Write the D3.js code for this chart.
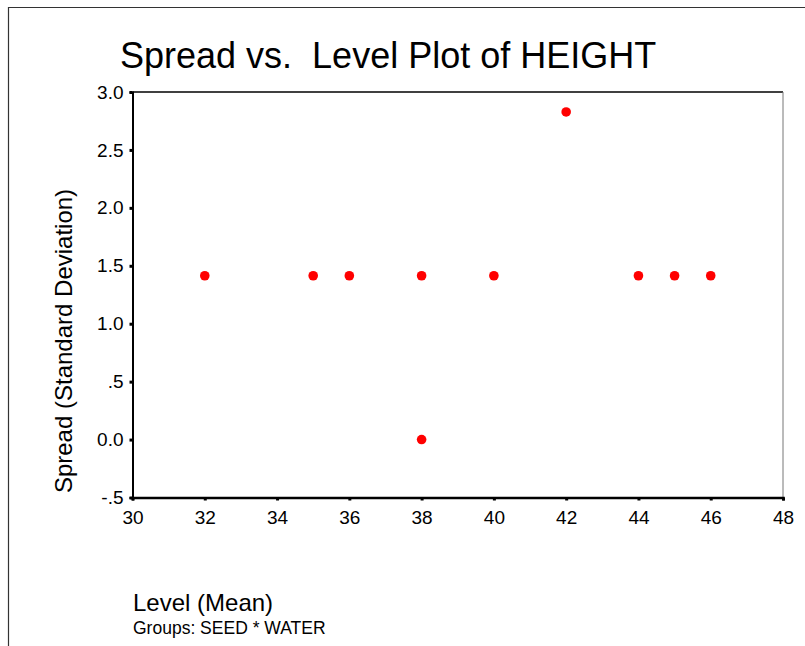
<!DOCTYPE html>
<html>
<head>
<meta charset="utf-8">
<script src="https://cdn.jsdelivr.net/npm/d3@7"></script>
<style>
  html, body { margin: 0; padding: 0; background: #fff; }
  svg { display: block; font-family: "Liberation Sans", Arial, sans-serif; }
</style>
</head>
<body>
<svg id="chart" width="805" height="646"></svg>
<script>
// ---- data ----
const levelMeans = [32, 35, 36, 38, 38, 40, 42, 44, 45, 46];
const spreadSD   = [1.414, 1.414, 1.414, 1.414, 0.0, 1.414, 2.828, 1.414, 1.414, 1.414];
const xTicks = [30, 32, 34, 36, 38, 40, 42, 44, 46, 48];
const yTicks = [-0.5, 0.0, 0.5, 1.0, 1.5, 2.0, 2.5, 3.0];
const yTickLabels = ["-.5", "0.0", ".5", "1.0", "1.5", "2.0", "2.5", "3.0"];
const titleText = "Spread vs.  Level Plot of HEIGHT";
const xTitle = "Level (Mean)";
const yTitle = "Spread (Standard Deviation)";
const footnote = "Groups: SEED * WATER";

const svg = d3.select("#chart");
const L = 132.5, R = 783, T = 92, B = 497.5;
const FONT = "Liberation Sans, Arial, sans-serif";

// outer frame (left and top only visible)
svg.append("path").attr("d", "M8.5,646 V7.5 H805").attr("fill", "none").attr("stroke", "#333").attr("stroke-width", 1.2);

const x = d3.scaleLinear().domain([30, 48]).range([L, R]);
const y = d3.scaleLinear().domain([-0.5, 3.0]).range([B, T]);

// plot frame
svg.append("line").attr("x1", L).attr("x2", R).attr("y1", T).attr("y2", T).attr("stroke", "#000").attr("stroke-width", 1.5);
svg.append("line").attr("x1", R).attr("x2", R).attr("y1", T).attr("y2", B).attr("stroke", "#777").attr("stroke-width", 1);

// axes
const yAxis = d3.axisLeft(y).tickValues(yTicks).tickSize(3).tickPadding(6)
  .tickFormat((d, i) => yTickLabels[i]);
const gy = svg.append("g").attr("transform", `translate(${L},0)`).call(yAxis);
gy.select(".domain").attr("stroke", "#000").attr("stroke-width", 2);
gy.selectAll(".tick line").attr("stroke", "#000").attr("stroke-width", 3);
gy.selectAll(".tick text").attr("font-size", 19).attr("fill", "#000").attr("font-family", FONT);

const xAxis = d3.axisBottom(x).tickValues(xTicks).tickSize(3).tickPadding(10).tickFormat(d3.format("d"));
const gx = svg.append("g").attr("transform", `translate(0,${B})`).call(xAxis);
gx.select(".domain").attr("stroke", "#000").attr("stroke-width", 2.5);
gx.selectAll(".tick line").attr("stroke", "#000").attr("stroke-width", 3);
gx.selectAll(".tick text").attr("font-size", 19).attr("fill", "#000").attr("font-family", FONT);

// points
svg.append("g").selectAll("circle").data(levelMeans.map((m, i) => [m, spreadSD[i]]))
  .join("circle")
  .attr("cx", d => x(d[0])).attr("cy", d => y(d[1])).attr("r", 4.8)
  .attr("fill", "#ff0000");

// texts
svg.append("text").attr("x", 120).attr("y", 68).attr("font-size", 36).attr("fill", "#000")
  .style("white-space", "pre").text(titleText);
svg.append("text").attr("x", 133).attr("y", 611).attr("font-size", 24).attr("fill", "#000").text(xTitle);
svg.append("text").attr("transform", `translate(72,341) rotate(-90)`).attr("text-anchor", "middle")
  .attr("font-size", 24).attr("fill", "#000").text(yTitle);
svg.append("text").attr("x", 133).attr("y", 634).attr("font-size", 17.5).attr("fill", "#000").text(footnote);
</script>
</body>
</html>
